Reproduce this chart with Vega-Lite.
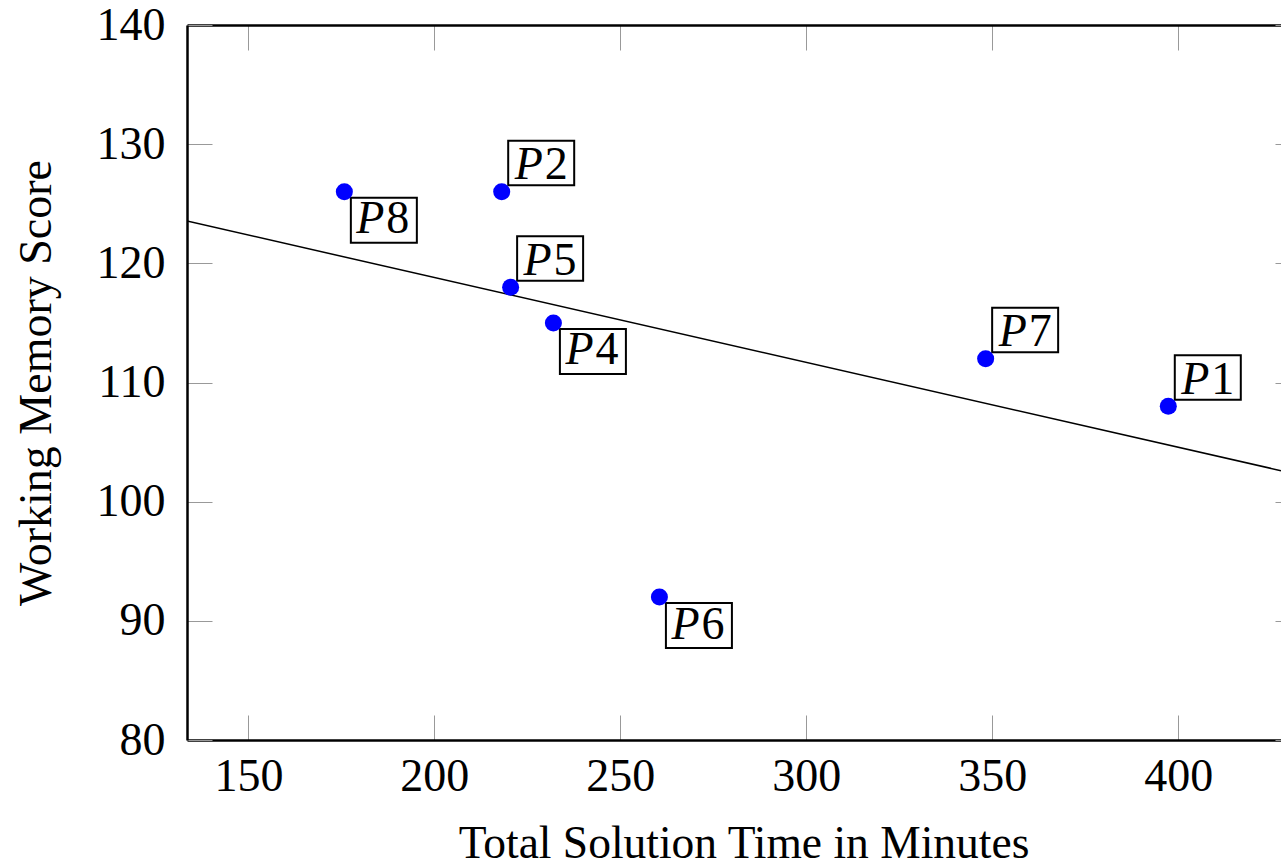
{
  "$schema": "https://vega.github.io/schema/vega-lite/v6.json",
  "width": 1094,
  "height": 715,
  "autosize": {"type": "none"},
  "padding": {"left": 187, "top": 25, "right": 0, "bottom": 126},
  "background": "white",
  "datasets": {
    "participants": [
      {"participant": "P1", "id": 1, "time": 397.3, "score": 108},
      {"participant": "P2", "id": 2, "time": 218.1, "score": 126},
      {"participant": "P4", "id": 4, "time": 232.0, "score": 115},
      {"participant": "P5", "id": 5, "time": 220.5, "score": 118},
      {"participant": "P6", "id": 6, "time": 260.5, "score": 92},
      {"participant": "P7", "id": 7, "time": 348.2, "score": 112},
      {"participant": "P8", "id": 8, "time": 175.8, "score": 126}
    ],
    "fit": [
      {"time": 133.5, "score": 123.55},
      {"time": 427.6, "score": 102.6}
    ]
  },
  "layer": [
    {
      "data": {"name": "fit"},
      "mark": {"type": "line", "color": "black", "strokeWidth": 1.5, "clip": true},
      "encoding": {
        "x": {"field": "time", "type": "quantitative",
              "scale": {"domain": [133.5, 427.6], "nice": false, "zero": false},
              "axis": {"orient": "top", "labels": false, "title": null, "values": [150, 200, 250, 300, 350, 400]}},
        "y": {"field": "score", "type": "quantitative",
              "scale": {"domain": [80, 140], "nice": false, "zero": false},
              "axis": {"orient": "right", "labels": false, "title": null, "domain": false, "offset": 19, "values": [80, 90, 100, 110, 120, 130, 140]}}
      }
    },
    {
      "data": {"name": "participants"},
      "transform": [{"filter": "indexof(['P4','P6','P8'], datum.participant) < 0"}],
      "mark": {"type": "point", "filled": true, "fill": "white", "stroke": "black", "strokeWidth": 2, "opacity": 1,
               "shape": "M 0.1625 -1.275 L 1.8125 -1.275 L 1.8125 -0.1625 L 0.1625 -0.1625 Z", "size": 6400},
      "encoding": {
        "x": {"field": "time", "type": "quantitative", "scale": {"domain": [133.5, 427.6], "nice": false, "zero": false}, "axis": null},
        "y": {"field": "score", "type": "quantitative", "scale": {"domain": [80, 140], "nice": false, "zero": false}, "axis": null}
      }
    },
    {
      "data": {"name": "participants"},
      "transform": [{"filter": "indexof(['P4','P6','P8'], datum.participant) >= 0"}],
      "mark": {"type": "point", "filled": true, "fill": "white", "stroke": "black", "strokeWidth": 2, "opacity": 1,
               "shape": "M 0.1625 0.15 L 1.8125 0.15 L 1.8125 1.275 L 0.1625 1.275 Z", "size": 6400},
      "encoding": {
        "x": {"field": "time", "type": "quantitative", "scale": {"domain": [133.5, 427.6], "nice": false, "zero": false}, "axis": null},
        "y": {"field": "score", "type": "quantitative", "scale": {"domain": [80, 140], "nice": false, "zero": false}, "axis": null}
      }
    },
    {
      "data": {"name": "participants"},
      "mark": {"type": "circle", "color": "#0000ff", "opacity": 1, "size": 290},
      "encoding": {
        "x": {"field": "time", "type": "quantitative",
              "scale": {"domain": [133.5, 427.6], "nice": false, "zero": false},
              "axis": {"orient": "bottom", "title": "Total Solution Time in Minutes", "values": [150, 200, 250, 300, 350, 400],
                       "labelPadding": 39, "titlePadding": 22, "titleFontSize": 45.5, "titleX": 556.5, "titleAlign": "center",
                       "labelFlush": false, "labelOverlap": false}},
        "y": {"field": "score", "type": "quantitative",
              "scale": {"domain": [80, 140], "nice": false, "zero": false},
              "axis": {"orient": "left", "title": "Working Memory Score", "values": [80, 90, 100, 110, 120, 130, 140],
                       "labelPadding": 47, "titlePadding": 36, "labelFlush": false, "labelOverlap": false}}
      }
    },
    {
      "data": {"name": "participants"},
      "transform": [{"filter": "indexof(['P4','P6','P8'], datum.participant) < 0"}],
      "mark": {"type": "text", "font": "Liberation Serif", "fontSize": 46, "fontStyle": "italic", "align": "left", "baseline": "alphabetic", "dx": 13, "dy": -12.5, "color": "black"},
      "encoding": {
        "x": {"field": "time", "type": "quantitative", "scale": {"domain": [133.5, 427.6], "nice": false, "zero": false}, "axis": null},
        "y": {"field": "score", "type": "quantitative", "scale": {"domain": [80, 140], "nice": false, "zero": false}, "axis": null},
        "text": {"value": "P"}
      }
    },
    {
      "data": {"name": "participants"},
      "transform": [{"filter": "indexof(['P4','P6','P8'], datum.participant) < 0"}],
      "mark": {"type": "text", "font": "Liberation Serif", "fontSize": 46, "align": "left", "baseline": "alphabetic", "dx": 43, "dy": -12.5, "color": "black"},
      "encoding": {
        "x": {"field": "time", "type": "quantitative", "scale": {"domain": [133.5, 427.6], "nice": false, "zero": false}, "axis": null},
        "y": {"field": "score", "type": "quantitative", "scale": {"domain": [80, 140], "nice": false, "zero": false}, "axis": null},
        "text": {"field": "id", "type": "nominal"}
      }
    },
    {
      "data": {"name": "participants"},
      "transform": [{"filter": "indexof(['P4','P6','P8'], datum.participant) >= 0"}],
      "mark": {"type": "text", "font": "Liberation Serif", "fontSize": 46, "fontStyle": "italic", "align": "left", "baseline": "alphabetic", "dx": 12, "dy": 41.5, "color": "black"},
      "encoding": {
        "x": {"field": "time", "type": "quantitative", "scale": {"domain": [133.5, 427.6], "nice": false, "zero": false}, "axis": null},
        "y": {"field": "score", "type": "quantitative", "scale": {"domain": [80, 140], "nice": false, "zero": false}, "axis": null},
        "text": {"value": "P"}
      }
    },
    {
      "data": {"name": "participants"},
      "transform": [{"filter": "indexof(['P4','P6','P8'], datum.participant) >= 0"}],
      "mark": {"type": "text", "font": "Liberation Serif", "fontSize": 46, "align": "left", "baseline": "alphabetic", "dx": 42, "dy": 41.5, "color": "black"},
      "encoding": {
        "x": {"field": "time", "type": "quantitative", "scale": {"domain": [133.5, 427.6], "nice": false, "zero": false}, "axis": null},
        "y": {"field": "score", "type": "quantitative", "scale": {"domain": [80, 140], "nice": false, "zero": false}, "axis": null},
        "text": {"field": "id", "type": "nominal"}
      }
    }
  ],
  "resolve": {"axis": {"x": "independent", "y": "independent"}},
  "config": {
    "view": {"stroke": null},
    "axis": {
      "grid": false,
      "tickSize": -25,
      "tickColor": "#999999",
      "tickWidth": 1,
      "domainColor": "black",
      "domainWidth": 2.5,
      "labelFont": "Liberation Serif",
      "labelFontSize": 46,
      "labelColor": "black",
      "titleFont": "Liberation Serif",
      "titleFontSize": 46,
      "titleFontWeight": "normal",
      "titleColor": "black"
    }
  }
}
